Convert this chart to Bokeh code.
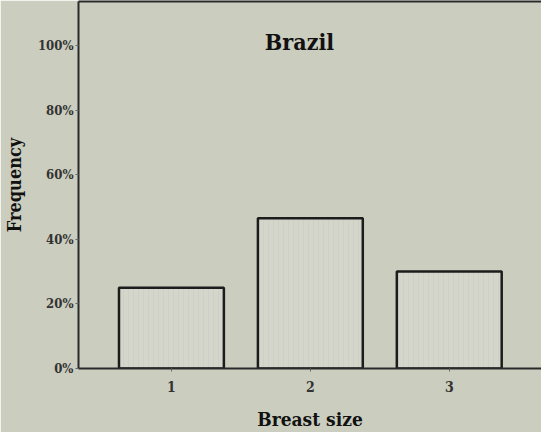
from bokeh.plotting import figure
from bokeh.models import ColumnDataSource, FixedTicker, LinearAxis, Label, Range1d
from bokeh.embed import file_html
from bokeh.resources import INLINE

categories = [1, 2, 3]
frequency_pct = [25, 46.5, 30]
y_ticks = [0, 20, 40, 60, 80, 100]
y_tick_labels = ["0%", "20%", "40%", "60%", "80%", "100%"]
title_text = "Brazil"
x_label = "Breast size"
y_label = "Frequency"

BG = "#cbcdbe"
BAR = "#d4d5cb"
INK = "#1c1c1c"
FONT = "'DejaVu Serif Condensed', 'Liberation Serif', serif"

p = figure(width=541, height=432, output_backend="svg", toolbar_location=None,
           x_range=Range1d(0.331, 3.664), y_range=Range1d(0, 113.6),
           min_border_left=78, min_border_right=0, min_border_top=1, min_border_bottom=64)
p.background_fill_color = BG
p.border_fill_color = BG
p.outline_line_color = None
p.xgrid.visible = False
p.ygrid.visible = False

src = ColumnDataSource(dict(x=categories, top=frequency_pct))
p.vbar(x="x", top="top", bottom=0, width=0.755, source=src,
       fill_color=BAR, line_color=INK, line_width=2.5,
       hatch_pattern="vertical_line", hatch_color="#b9bab0", hatch_alpha=0.35, hatch_scale=5, hatch_weight=0.6)

# axes
p.xaxis.ticker = FixedTicker(ticks=categories)
p.xaxis.major_label_overrides = {c: str(c) for c in categories}
p.yaxis.ticker = FixedTicker(ticks=y_ticks)
p.yaxis.major_label_overrides = dict(zip(y_ticks, y_tick_labels))
for ax in (p.xaxis[0], p.yaxis[0]):
    ax.axis_line_color = "#2a2a2a"
    ax.axis_line_width = 2
    ax.major_tick_line_color = "#666666"
    ax.major_tick_out = 3
    ax.major_tick_in = 0
    ax.minor_tick_line_color = None
    ax.major_label_text_font = FONT
    ax.major_label_text_font_style = "bold"
    ax.major_label_text_color = "#333333"
    ax.axis_label_text_font = FONT
    ax.axis_label_text_font_style = "bold"
    ax.axis_label_text_color = "#111111"
p.xaxis.major_label_text_font_size = "14px"
p.yaxis.major_label_text_font_size = "13px"
p.xaxis.major_label_standoff = 9
p.yaxis.major_label_standoff = 2
p.xaxis.axis_label = x_label
p.yaxis.axis_label = y_label
p.xaxis.axis_label_text_font_size = "19px"
p.yaxis.axis_label_text_font_size = "18px"
p.xaxis.axis_label_standoff = 13
p.yaxis.axis_label_standoff = 10

top_axis = LinearAxis(ticker=FixedTicker(ticks=[]), axis_line_color="#2a2a2a", axis_line_width=2,
                      major_tick_line_color=None, minor_tick_line_color=None,
                      major_label_text_font_size="0px")
p.add_layout(top_axis, "above")

p.add_layout(Label(x=307 - 8 - 78, y=368 - (48 - 8) - 1, x_units="screen", y_units="screen",
                   text=title_text, text_font=FONT, text_font_style="bold",
                   text_font_size="23px", text_align="center", text_baseline="middle",
                   text_color="#111111"))

open("out.html", "w").write(file_html(p, INLINE))
